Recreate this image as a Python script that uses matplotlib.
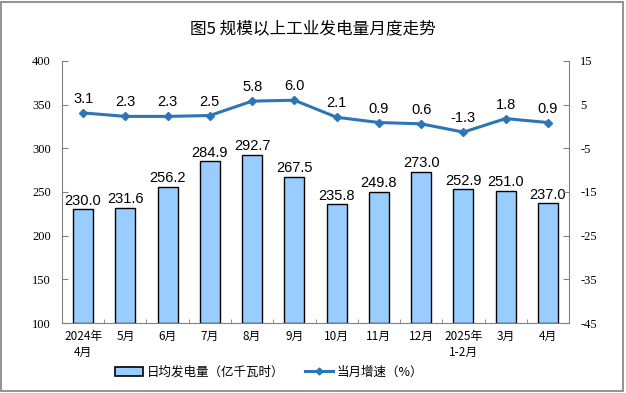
import matplotlib
matplotlib.use("Agg")
import matplotlib.pyplot as plt
from matplotlib.patches import Rectangle
from matplotlib.lines import Line2D
from matplotlib.patches import Patch

plt.rcParams['font.family'] = ['Noto Sans CJK SC', 'DejaVu Sans']

categories = ["2024年\n4月", "5月", "6月", "7月", "8月", "9月", "10月", "11月", "12月", "2025年\n1-2月", "3月", "4月"]
daily_output = [230.0, 231.6, 256.2, 284.9, 292.7, 267.5, 235.8, 249.8, 273.0, 252.9, 251.0, 237.0]
growth = [3.1, 2.3, 2.3, 2.5, 5.8, 6.0, 2.1, 0.9, 0.6, -1.3, 1.8, 0.9]
left_ticks = [100, 150, 200, 250, 300, 350, 400]
right_ticks = [-45, -35, -25, -15, -5, 5, 15]

fig = plt.figure(figsize=(6.26, 3.93), dpi=100)
ax = fig.add_axes([0.099, 0.178, 0.810, 0.667])
x = list(range(len(categories)))

bar_color = "#99CCFF"
line_color = "#2E75B6"

ax.bar(x, [v - 100 for v in daily_output], bottom=100, width=0.47, color=bar_color,
       edgecolor="black", linewidth=1.0, zorder=2)
for xi, v in zip(x, daily_output):
    ax.text(xi, v + 2, f"{v:.1f}", ha="center", va="bottom", fontsize=10.5,
            family="Liberation Sans")

ax.set_xlim(-0.5, len(categories) - 0.5)
ax.set_ylim(100, 400)
ax.set_yticks(left_ticks)
ax.set_yticklabels([str(t) for t in left_ticks], family="Liberation Serif", fontsize=9)
ax.set_xticks(x)
ax.set_xticklabels(categories, fontsize=8.5, linespacing=1.3)
ax.tick_params(axis="x", length=0, pad=5)
ax.set_xticks([i + 0.5 for i in x[:-1]], minor=True)
ax.tick_params(axis="x", which="minor", direction="in", length=3, color="#808080")
ax.tick_params(axis="y", direction="in", length=4, color="#808080", pad=8)
ax.spines["top"].set_visible(False)
ax.spines["right"].set_visible(False)
for s in ["left", "bottom"]:
    ax.spines[s].set_color("#808080")

ax2 = ax.twinx()
ax2.plot(x, growth, color=line_color, linewidth=2.2, marker="D", markersize=4.5, zorder=3)
for xi, v in zip(x, growth):
    ax2.text(xi, v + 1.6, f"{v:.1f}", ha="center", va="bottom", fontsize=10.5,
             family="Liberation Sans")
ax2.set_ylim(-45, 15)
ax2.set_yticks(right_ticks)
ax2.set_yticklabels([str(t) for t in right_ticks], family="Liberation Serif", fontsize=9)
ax2.tick_params(axis="y", direction="in", length=4, color="#808080", pad=8)
ax2.spines["top"].set_visible(False)
ax2.spines["left"].set_visible(False)
ax2.spines["bottom"].set_visible(False)
ax2.spines["right"].set_color("#808080")

fig.text(0.5, 0.928, "图5 规模以上工业发电量月度走势", ha="center", va="center", fontsize=12)

handles = [Patch(facecolor=bar_color, edgecolor="black", linewidth=1.2),
           Line2D([0], [0], color=line_color, linewidth=2.2, marker="D", markersize=3.5)]
labels = ["日均发电量（亿千瓦时）", "当月增速（%）"]
fig.legend(handles, labels, loc="center", bbox_to_anchor=(0.43, 0.053), ncol=2,
           frameon=False, fontsize=9, columnspacing=1.7, handlelength=2.2, handletextpad=0.3)

fig.patches.append(Rectangle((0.002, 0.004), 0.993, 0.992, transform=fig.transFigure,
                             fill=False, edgecolor="#808080", linewidth=1.2))

fig.savefig("out.png", dpi=100)
